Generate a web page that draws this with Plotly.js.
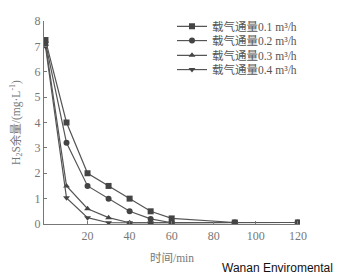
<!DOCTYPE html>
<html><head><meta charset="utf-8">
<script src="https://cdn.plot.ly/plotly-3.0.1.min.js"></script>
<style>html,body{margin:0;padding:0;background:#fff;}#chart{width:339px;height:279px;}</style>
</head><body><div id="chart"></div>
<script>
const time = [0, 10, 20, 30, 40, 50, 60, 90, 120];
const flow01 = [7.25, 4.0, 2.0, 1.5, 1.0, 0.5, 0.22, 0.06, 0.06];
const flow02 = [7.15, 3.2, 1.5, 1.0, 0.5, 0.2, 0.05, 0.06, 0.06];
const flow03 = [7.1, 1.5, 0.6, 0.25, 0.05, 0.05, 0.05, 0.06, 0.06];
const flow04 = [7.0, 1.03, 0.25, 0.05, 0.05, 0.05, 0.05, 0.06, 0.06];
const seriesNames = ['载气通量0.1 m³/h', '载气通量0.2 m³/h', '载气通量0.3 m³/h', '载气通量0.4 m³/h'];
const symbols = ['square', 'circle', 'triangle-up', 'triangle-down'];
const values = [flow01, flow02, flow03, flow04];

const FONT = 'Liberation Serif, Times New Roman, Noto Sans CJK SC, serif';
// alternate items between two interleaved legends to get the tight 15px row spacing
const traces = values.map((v, i) => ({
  x: time, y: v, name: seriesNames[i], type: 'scatter', mode: 'lines+markers',
  legend: i % 2 === 0 ? 'legend' : 'legend2', legendgroup: 'g' + i,
  line: {color: '#555', width: 1.2},
  marker: {symbol: symbols[i], size: 6, color: '#444'}
}));

const legendBase = {x: 0.5, xanchor: 'left', yanchor: 'top', bgcolor: 'rgba(0,0,0,0)',
  font: {family: FONT, size: 11.5, color: '#555'}, itemwidth: 30, traceorder: 'grouped', tracegroupgap: 10};

const layout = {
  width: 339, height: 279,
  margin: {l: 44, r: 39, t: 15, b: 54.5, pad: 0},
  paper_bgcolor: '#fff', plot_bgcolor: '#fff',
  font: {family: FONT, color: '#666', size: 12},
  showlegend: true,
  legend: Object.assign({}, legendBase, {y: 1.045}),
  legend2: Object.assign({}, legendBase, {y: 0.975}),
  xaxis: {
    range: [-0.7, 121], showgrid: false, zeroline: false, showline: true, linecolor: '#777', linewidth: 1.2,
    ticks: 'inside', ticklen: 3, tickcolor: '#777', tickvals: [20, 40, 60, 80, 100, 120],
    tickfont: {size: 12, color: '#777'},
    title: {text: '时间/min', font: {size: 11.5, color: '#777'}, standoff: 12}
  },
  yaxis: {
    range: [0, 8], showgrid: false, zeroline: false, showline: true, linecolor: '#777', linewidth: 1.2,
    ticks: 'inside', ticklen: 3, tickcolor: '#777', dtick: 1,
    tickfont: {size: 12, color: '#777'},
    title: {text: 'H<sub>2</sub>S余量/(mg·L<sup>-1</sup>)', font: {size: 11.5, color: '#777'}, standoff: 11}
  },
  annotations: [{
    text: 'Wanan Enviromental', xref: 'paper', yref: 'paper', x: 1.137, y: -0.215,
    xanchor: 'right', yanchor: 'middle', showarrow: false,
    font: {family: 'Liberation Sans, Arial, sans-serif', size: 12, color: '#111'}
  }]
};
Plotly.newPlot('chart', traces, layout, {displayModeBar: false, staticPlot: true});
</script></body></html>
